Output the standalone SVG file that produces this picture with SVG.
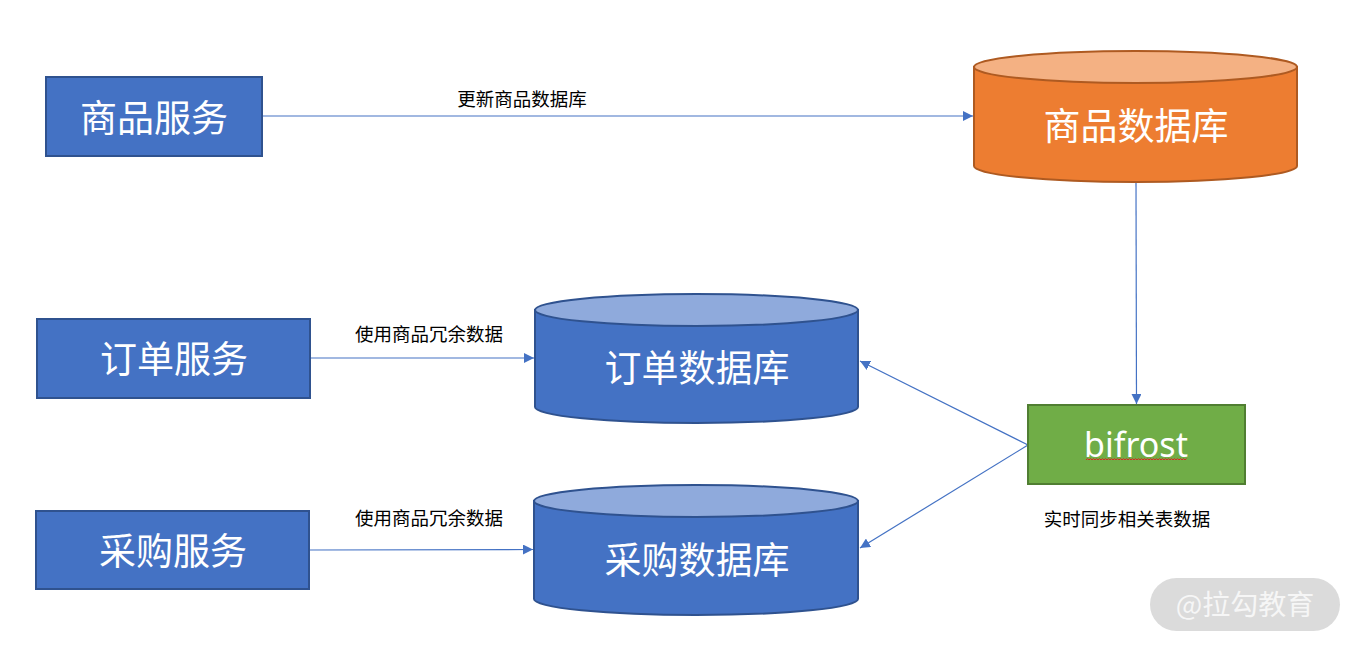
<svg xmlns="http://www.w3.org/2000/svg" width="1359" height="650" viewBox="0 0 1359 650">
<defs>
<style>
.box{fill:#4472C4;stroke:#2F528F;stroke-width:2}
.cylb{fill:#4472C4;stroke:#2F528F;stroke-width:2}
.topb{fill:#8FAADC;stroke:#2F528F;stroke-width:2}
.cylo{fill:#ED7D31;stroke:#AE5A21;stroke-width:2}
.topo{fill:#F4B183;stroke:#AE5A21;stroke-width:2}
.big{font-family:"Noto Sans CJK SC","Noto Sans",sans-serif;font-size:37px;fill:#FFFFFF;text-anchor:middle;dominant-baseline:central}
.lbl{font-family:"Noto Sans CJK SC","Noto Sans",sans-serif;font-size:18.5px;fill:#000000;text-anchor:middle;dominant-baseline:central}
.conn{stroke:#4472C4;stroke-width:1.2;fill:none;marker-end:url(#ah)}
</style>
<marker id="ah" viewBox="0 0 10 10" refX="10" refY="5" markerWidth="10" markerHeight="10" markerUnits="userSpaceOnUse" orient="auto">
<path d="M0,0 L10,5 L0,10 Z" fill="#4472C4"/>
</marker>
</defs>
<rect width="1359" height="650" fill="#FFFFFF"/>

<g id="connectors">
<line class="conn" x1="263" y1="116" x2="973" y2="116"/>
<line class="conn" x1="311" y1="358" x2="534" y2="358"/>
<line class="conn" x1="310" y1="550" x2="533" y2="549.5"/>
<line class="conn" x1="1136" y1="183" x2="1136.5" y2="404"/>
<line class="conn" x1="1028" y1="445" x2="860" y2="361"/>
<line class="conn" x1="1028" y1="445" x2="860" y2="548"/>
<text class="lbl" x="522" y="98">更新商品数据库</text>
<text class="lbl" x="429" y="333">使用商品冗余数据</text>
<text class="lbl" x="429" y="517">使用商品冗余数据</text>
<text class="lbl" x="1127" y="518">实时同步相关表数据</text>
</g>

<g id="node-goods-service">
<rect class="box" x="46" y="77" width="216" height="79"/>
<text class="big" x="154" y="116">商品服务</text>
</g>

<g id="node-goods-db">
<path class="cylo" d="M974,67 L974,166 A161.5,16 0 0 0 1297,166 L1297,67 Z"/>
<ellipse class="topo" cx="1135.5" cy="67" rx="161.5" ry="16"/>
<text class="big" x="1136" y="124">商品数据库</text>
</g>

<g id="node-order-service">
<rect class="box" x="37" y="319" width="273" height="79"/>
<text class="big" x="174" y="357">订单服务</text>
</g>

<g id="node-order-db">
<path class="cylb" d="M535,310 L535,407 A161.5,16 0 0 0 858,407 L858,310 Z"/>
<ellipse class="topb" cx="696.5" cy="310" rx="161.5" ry="16"/>
<text class="big" x="697" y="366">订单数据库</text>
</g>

<g id="node-purchase-service">
<rect class="box" x="36" y="511" width="273" height="78"/>
<text class="big" x="173" y="549">采购服务</text>
</g>

<g id="node-purchase-db">
<path class="cylb" d="M534,501 L534,599 A162,16 0 0 0 858,599 L858,501 Z"/>
<ellipse class="topb" cx="696" cy="501" rx="162" ry="16"/>
<text class="big" x="697" y="558">采购数据库</text>
</g>

<g id="node-bifrost">
<rect x="1028" y="405" width="217" height="79" fill="#70AD47" stroke="#507E32" stroke-width="2"/>
<text class="big" x="1136" y="444" style="font-family:'Noto Sans','Open Sans',sans-serif;font-size:34px">bifrost</text>
<path d="M1086,460 l1.5,-1.5 l1.5,1.5 l1.5,-1.5 l1.5,1.5 l1.5,-1.5 l1.5,1.5 l1.5,-1.5 l1.5,1.5 l1.5,-1.5 l1.5,1.5 l1.5,-1.5 l1.5,1.5 l1.5,-1.5 l1.5,1.5 l1.5,-1.5 l1.5,1.5 l1.5,-1.5 l1.5,1.5 l1.5,-1.5 l1.5,1.5 l1.5,-1.5 l1.5,1.5 l1.5,-1.5 l1.5,1.5 l1.5,-1.5 l1.5,1.5 l1.5,-1.5 l1.5,1.5 l1.5,-1.5 l1.5,1.5 l1.5,-1.5 l1.5,1.5 l1.5,-1.5 l1.5,1.5 l1.5,-1.5 l1.5,1.5 l1.5,-1.5 l1.5,1.5 l1.5,-1.5 l1.5,1.5 l1.5,-1.5 l1.5,1.5 l1.5,-1.5 l1.5,1.5 l1.5,-1.5 l1.5,1.5 l1.5,-1.5 l1.5,1.5 l1.5,-1.5 l1.5,1.5 l1.5,-1.5 l1.5,1.5 l1.5,-1.5 l1.5,1.5 l1.5,-1.5 l1.5,1.5 l1.5,-1.5 l1.5,1.5 l1.5,-1.5 l1.5,1.5 l1.5,-1.5 l1.5,1.5 l1.5,-1.5 l1.5,1.5 l1.5,-1.5 l1.5,1.5 l1.5,-1.5" fill="none" stroke="#E02020" stroke-width="1"/>
</g>

<g id="watermark">
<rect x="1150" y="578" width="190" height="53" rx="26.5" fill="#D9D9D9" opacity="0.95"/>
<text x="1245" y="603" style="font-family:'Noto Sans CJK SC',sans-serif;font-size:28px;fill:#F6F6F6;text-anchor:middle;dominant-baseline:central">@拉勾教育</text>
</g>
</svg>
